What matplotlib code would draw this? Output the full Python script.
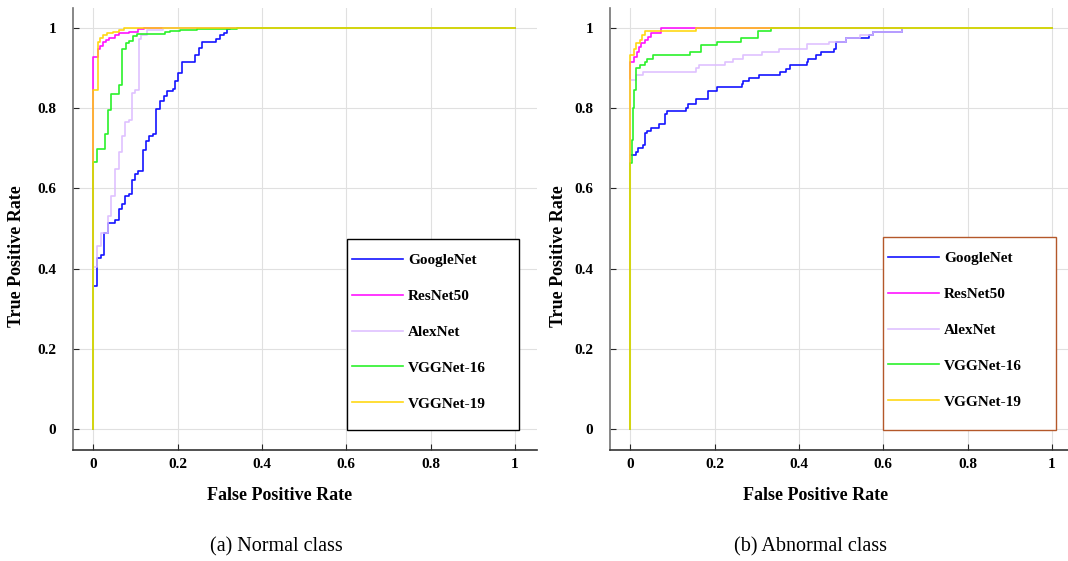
import numpy as np
import matplotlib.pyplot as plt
from matplotlib.patches import Rectangle

# ---- (a) Normal class ----
google_fpr_a = [0, 0, 0.010, 0.018, 0.026, 0.036, 0.052, 0.060, 0.068, 0.076, 0.084, 0.092,
                0.100, 0.107, 0.118, 0.126, 0.133, 0.141, 0.149, 0.159, 0.167, 0.175, 0.190,
                0.193, 0.200, 0.210, 0.242, 0.250, 0.259, 0.291, 0.300, 0.309, 0.317, 0.325, 1.0]
google_tpr_a = [0, 0.357, 0.427, 0.434, 0.488, 0.513, 0.521, 0.548, 0.561, 0.581, 0.586, 0.621,
                0.635, 0.644, 0.696, 0.719, 0.731, 0.737, 0.797, 0.817, 0.830, 0.844, 0.848,
                0.867, 0.887, 0.916, 0.933, 0.951, 0.964, 0.972, 0.983, 0.988, 0.997, 1.0, 1.0]
resnet_fpr_a = [0, 0, 0.011, 0.017, 0.024, 0.031, 0.038, 0.052, 0.060, 0.084, 0.107, 0.120, 1.0]
resnet_tpr_a = [0, 0.927, 0.949, 0.955, 0.966, 0.970, 0.975, 0.983, 0.987, 0.991, 0.997, 1.0, 1.0]
alex_fpr_a = [0, 0, 0.010, 0.018, 0.035, 0.043, 0.052, 0.060, 0.068, 0.076, 0.084, 0.092,
              0.100, 0.109, 0.114, 0.127, 0.166, 1.0]
alex_tpr_a = [0, 0.405, 0.456, 0.488, 0.531, 0.581, 0.648, 0.690, 0.731, 0.765, 0.771, 0.837,
              0.845, 0.972, 0.983, 0.995, 1.0, 1.0]
vgg16_fpr_a = [0, 0, 0.010, 0.027, 0.035, 0.043, 0.060, 0.068, 0.077, 0.084, 0.094, 0.104,
               0.171, 0.182, 0.206, 0.246, 0.340, 1.0]
vgg16_tpr_a = [0, 0.667, 0.698, 0.737, 0.796, 0.835, 0.858, 0.948, 0.962, 0.968, 0.980, 0.984,
               0.989, 0.993, 0.995, 0.998, 1.0, 1.0]
vgg19_fpr_a = [0, 0, 0.011, 0.017, 0.024, 0.032, 0.048, 0.060, 0.072, 1.0]
vgg19_tpr_a = [0, 0.845, 0.966, 0.974, 0.983, 0.987, 0.991, 0.995, 1.0, 1.0]

# ---- (b) Abnormal class ----
google_fpr_b = [0, 0, 0.014, 0.019, 0.030, 0.035, 0.040, 0.050, 0.068, 0.082, 0.087, 0.132,
                0.138, 0.156, 0.184, 0.205, 0.264, 0.268, 0.282, 0.306, 0.356, 0.369, 0.378,
                0.418, 0.422, 0.440, 0.453, 0.483, 0.487, 0.512, 0.567, 0.575, 0.645, 1.0]
google_tpr_b = [0, 0.683, 0.690, 0.702, 0.708, 0.739, 0.743, 0.751, 0.760, 0.785, 0.792, 0.800,
                0.810, 0.824, 0.842, 0.852, 0.860, 0.868, 0.875, 0.883, 0.890, 0.898, 0.909,
                0.916, 0.924, 0.933, 0.941, 0.949, 0.966, 0.974, 0.983, 0.991, 1.0, 1.0]
resnet_fpr_b = [0, 0, 0.010, 0.017, 0.021, 0.026, 0.034, 0.043, 0.050, 0.074, 1.0]
resnet_tpr_b = [0, 0.916, 0.929, 0.941, 0.954, 0.962, 0.970, 0.978, 0.988, 1.0, 1.0]
alex_fpr_b = [0, 0, 0.013, 0.030, 0.156, 0.164, 0.225, 0.243, 0.268, 0.313, 0.353, 0.418,
              0.471, 0.512, 0.544, 0.575, 0.645, 1.0]
alex_tpr_b = [0, 0.870, 0.883, 0.891, 0.900, 0.909, 0.916, 0.924, 0.933, 0.941, 0.949, 0.959,
              0.966, 0.974, 0.983, 0.991, 1.0, 1.0]
vgg16_fpr_b = [0, 0, 0.004, 0.006, 0.010, 0.014, 0.022, 0.035, 0.039, 0.054, 0.142, 0.167,
               0.206, 0.262, 0.303, 0.333, 1.0]
vgg16_tpr_b = [0, 0.663, 0.720, 0.800, 0.845, 0.900, 0.909, 0.916, 0.924, 0.934, 0.941, 0.958,
               0.966, 0.974, 0.993, 1.0, 1.0]
vgg19_fpr_b = [0, 0, 0.008, 0.014, 0.022, 0.028, 0.035, 0.155, 1.0]
vgg19_tpr_b = [0, 0.933, 0.949, 0.962, 0.970, 0.983, 0.992, 1.0, 1.0]

labels = ['GoogleNet', 'ResNet50', 'AlexNet', 'VGGNet-16', 'VGGNet-19']
colors = ['#0000ff', '#ff00ff', '#dcbcff', '#19f019', '#ffd400']
ticks = [0, 0.2, 0.4, 0.6, 0.8, 1]
tick_labels = ['0', '0.2', '0.4', '0.6', '0.8', '1']
captions = ['(a) Normal class', '(b) Abnormal class']

curves_a = [(google_fpr_a, google_tpr_a), (resnet_fpr_a, resnet_tpr_a), (alex_fpr_a, alex_tpr_a),
            (vgg16_fpr_a, vgg16_tpr_a), (vgg19_fpr_a, vgg19_tpr_a)]
curves_b = [(google_fpr_b, google_tpr_b), (resnet_fpr_b, resnet_tpr_b), (alex_fpr_b, alex_tpr_b),
            (vgg16_fpr_b, vgg16_tpr_b), (vgg19_fpr_b, vgg19_tpr_b)]

plt.rcParams['font.family'] = ['Liberation Serif', 'DejaVu Serif']

W, H = 1068, 561
fig = plt.figure(figsize=[W / 100, H / 100], dpi=100)


def px_box(left, top, right, bottom):
    return [left / W, 1 - bottom / H, (right - left) / W, (bottom - top) / H]


axes = [fig.add_axes(px_box(73, 8, 537, 450)), fig.add_axes(px_box(610, 8, 1074, 450))]
legend_edges = ['black', '#b4582a']
legend_frames = [(0.602, -0.002, 1.009, 0.474), (0.600, -0.002, 1.009, 0.479)]

for ax, curves, edge, frame in zip(axes, [curves_a, curves_b], legend_edges, legend_frames):
    for (fpr, tpr), lab, col in zip(curves, labels, colors):
        ax.step(fpr, tpr, where='post', color=col, lw=1.2, alpha=0.92, label=lab)
    ax.set_xlim(-0.048, 1.052)
    ax.set_ylim(-0.052, 1.05)
    ax.set_xticks(ticks)
    ax.set_yticks(ticks)
    ax.set_xticklabels(tick_labels, fontsize=11, fontweight='bold')
    ax.set_yticklabels(tick_labels, fontsize=11, fontweight='bold')
    ax.tick_params(direction='in', length=4, width=0.8, color='0.15')
    ax.tick_params(axis='x', pad=6)
    ax.tick_params(axis='y', pad=12)
    ax.grid(True, color='0.88', lw=0.8)
    ax.set_axisbelow(True)
    for s in ['top', 'right']:
        ax.spines[s].set_visible(False)
    ax.spines['left'].set_color('0.45')
    ax.spines['bottom'].set_color('0.2')
    ax.spines['left'].set_linewidth(1.2)
    ax.spines['bottom'].set_linewidth(1.2)

    x0, y0, x1, y1 = frame
    ax.add_patch(Rectangle((x0, y0), x1 - x0, y1 - y0, facecolor='white',
                           edgecolor=edge, lw=1.0, zorder=3, clip_on=False))
    leg = ax.legend(loc='upper left', bbox_to_anchor=(x0 + 0.012, y1 - 0.036),
                    bbox_transform=ax.transData, frameon=False, borderpad=0,
                    borderaxespad=0, handlelength=3.3, handletextpad=0.35,
                    labelspacing=1.45, prop={'size': 11, 'weight': 'bold'})
    leg.set_zorder(4)

fig.text(280 / W, 1 - 495 / H, 'False Positive Rate', ha='center', va='center',
         fontsize=13, fontweight='bold')
fig.text(816 / W, 1 - 495 / H, 'False Positive Rate', ha='center', va='center',
         fontsize=13, fontweight='bold')
fig.text(17 / W, 1 - 256 / H, 'True Positive Rate', ha='center', va='center',
         rotation=90, fontsize=13, fontweight='bold')
fig.text(558 / W, 1 - 256 / H, 'True Positive Rate', ha='center', va='center',
         rotation=90, fontsize=13, fontweight='bold')
fig.text(276 / W, 1 - 547 / H, captions[0], ha='center', va='center', fontsize=14.5)
fig.text(811 / W, 1 - 547 / H, captions[1], ha='center', va='center', fontsize=14.5)

plt.savefig('out.png', dpi=100)
plt.close()
